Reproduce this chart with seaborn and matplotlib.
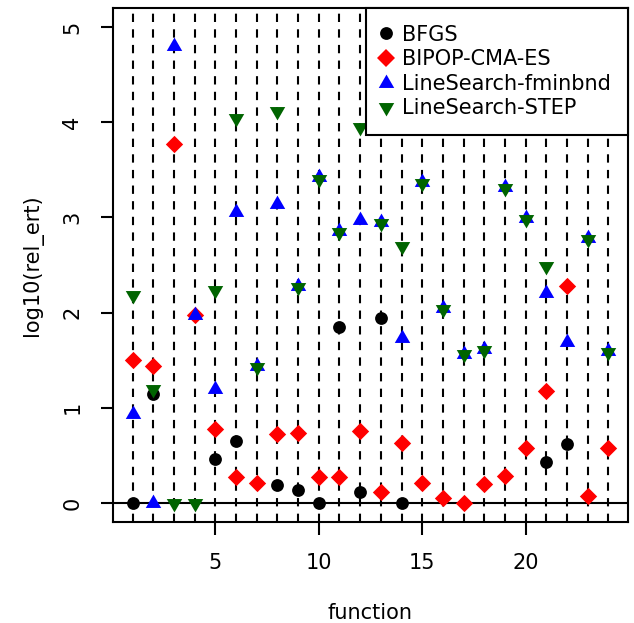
import numpy as np
import pandas as pd
import matplotlib
matplotlib.use("Agg")
import matplotlib.pyplot as plt
import seaborn as sns

nan = np.nan
functions = list(range(1, 25))
bfgs = [0.0, 1.14, nan, nan, 0.46, 0.65, nan, 0.19, 0.14, 0.0, 1.85, 0.11,
        1.94, 0.0, nan, nan, nan, nan, nan, nan, 0.43, 0.62, nan, nan]
bipop = [1.50, 1.44, 3.77, 1.97, 0.78, 0.27, 0.21, 0.72, 0.74, 0.27, 0.27, 0.76,
         0.11, 0.63, 0.21, 0.05, 0.0, 0.20, 0.28, 0.58, 1.18, 2.28, 0.07, 0.58]
fminbnd = [0.93, 0.0, 4.80, 1.97, 1.20, 3.06, 1.44, 3.14, 2.28, 3.42, 2.86, 2.97,
           2.95, 1.73, 3.37, 2.05, 1.57, 1.62, 3.32, 2.99, 2.21, 1.69, 2.78, 1.60]
step = [2.18, 1.20, 0.0, 0.0, 2.24, 4.04, 1.43, 4.12, 2.27, 3.40, 2.85, 3.95,
        2.94, 2.70, 3.36, 2.04, 1.56, 1.61, 3.31, 2.98, 2.49, nan, 2.77, 1.59]
series_names = ["BFGS", "BIPOP-CMA-ES", "LineSearch-fminbnd", "LineSearch-STEP"]
x_ticks = [5, 10, 15, 20]
y_ticks = [0, 1, 2, 3, 4, 5]

frames = []
for name, vals in zip(series_names, [bfgs, bipop, fminbnd, step]):
    frames.append(pd.DataFrame({"function": functions, "value": vals, "alg": name}))
df = pd.concat(frames).dropna()

sns.set_style("white")
plt.rcParams["font.family"] = ["DejaVu Sans"]
for k in ["text.color", "axes.labelcolor", "xtick.color", "ytick.color"]:
    plt.rcParams[k] = "black"

fig = plt.figure(figsize=(6.34, 6.23), dpi=100)
ax = fig.add_axes([113/634, 101/623, (628-113)/634, (522-8)/623])

for f in functions:
    ax.axvline(f, color="black", lw=1.5, ls=(0, (4, 3.5)), zorder=1)
ax.axhline(0, color="black", lw=1.5, zorder=1)

tri_up = [(-1, -0.577), (1, -0.577), (0, 1.155), (-1, -0.577)]
tri_dn = [(-1, 0.577), (1, 0.577), (0, -1.155), (-1, 0.577)]
palette = {"BFGS": "black", "BIPOP-CMA-ES": "#ff0000",
           "LineSearch-fminbnd": "#0000ff", "LineSearch-STEP": "#006400"}
markers = {"BFGS": "o", "BIPOP-CMA-ES": "D",
           "LineSearch-fminbnd": tri_up, "LineSearch-STEP": tri_dn}
sizes = {"BFGS": 85, "BIPOP-CMA-ES": 78, "LineSearch-fminbnd": 165, "LineSearch-STEP": 165}

handles = []
for name in series_names:
    sub = df[df["alg"] == name]
    sns.scatterplot(data=sub, x="function", y="value", color=palette[name],
                    marker=markers[name], s=sizes[name], linewidth=0,
                    ax=ax, zorder=3, legend=False)
    handles.append(plt.Line2D([], [], ls="", marker=markers[name], color=palette[name],
                              markersize=np.sqrt(sizes[name]), markeredgewidth=0))

leg = ax.legend(handles, series_names, loc="upper right", fontsize=15,
                frameon=True, fancybox=False, edgecolor="black", framealpha=1,
                borderaxespad=0, handletextpad=0.65, handlelength=0.3,
                borderpad=0.8, labelspacing=0.22)
leg.get_frame().set_linewidth(1.5)
leg.set_zorder(5)

ax.set_xlim(0.05, 24.95)
ax.set_ylim(-0.2, 5.2)
ax.set_xticks(x_ticks)
ax.set_yticks(y_ticks)
ax.set_xticklabels([str(t) for t in x_ticks], fontsize=15)
ax.set_yticklabels([str(t) for t in y_ticks], fontsize=15, rotation=90, va="center")
ax.tick_params(axis="both", direction="out", length=9, width=1.5, color="black",
               bottom=True, left=True)
ax.tick_params(axis="x", pad=13)
ax.tick_params(axis="y", pad=13)
ax.set_xlabel("function", fontsize=15, labelpad=22)
ax.set_ylabel("log10(rel_ert)", fontsize=15, labelpad=14)
for sp in ax.spines.values():
    sp.set_visible(True)
    sp.set_color("black")
    sp.set_linewidth(1.5)

fig.savefig("out.png", dpi=100)
